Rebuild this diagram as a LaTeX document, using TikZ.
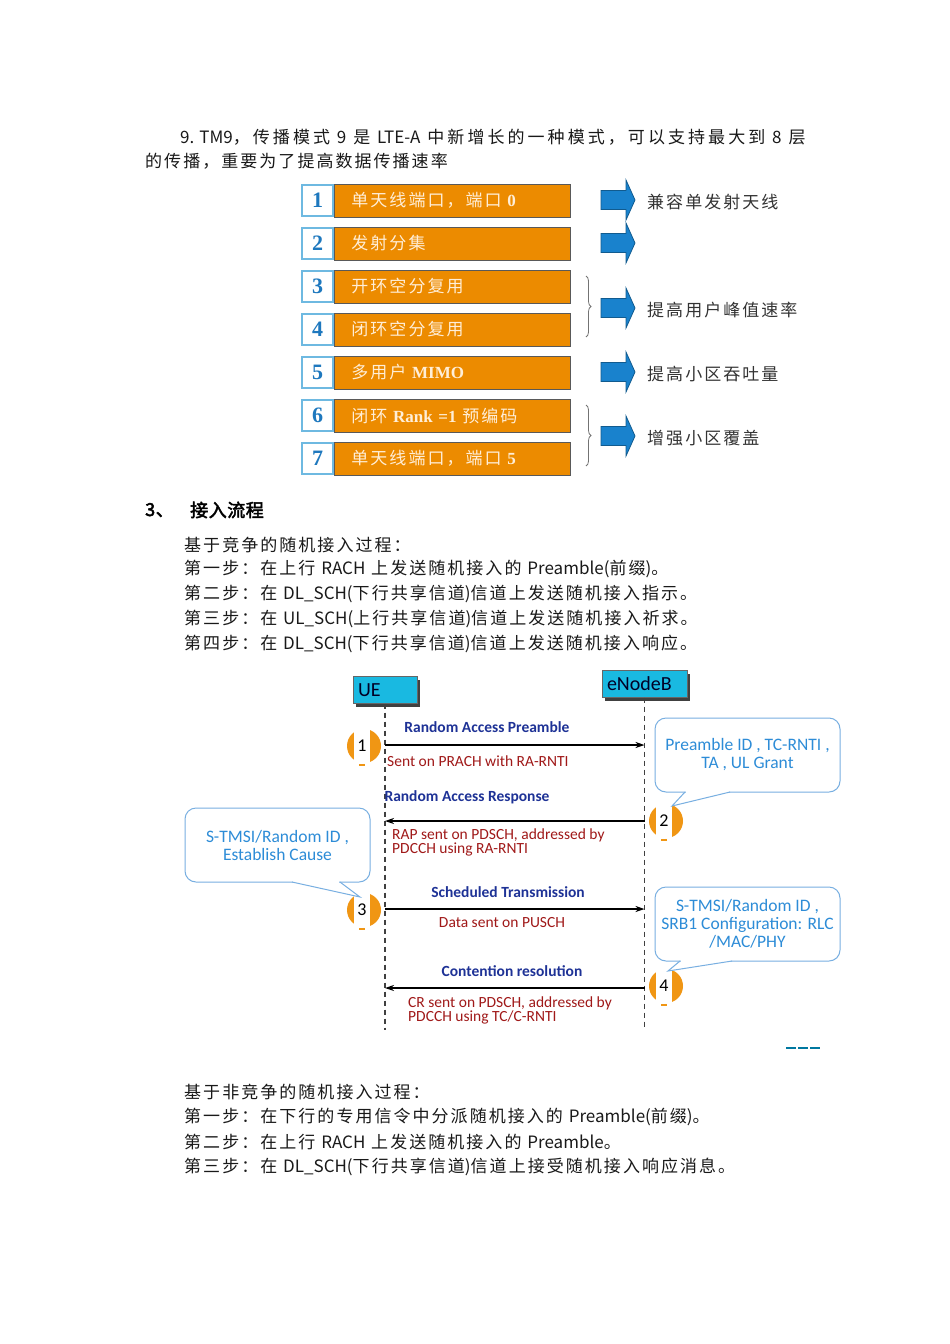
\documentclass[tikz,border=0pt]{standalone}
\usepackage{fontspec}
\setmainfont{Liberation Serif}
\newfontfamily\cjk[LetterSpace=12]{Noto Sans CJK SC}
\newfontfamily\cjkwide[LetterSpace=18]{Noto Sans CJK SC}
\newfontfamily\cjkplain{Noto Sans CJK SC}
\newfontfamily\cjkhead[LetterSpace=3,AutoFakeBold=2.5]{Noto Sans CJK SC}
\newfontfamily\cali{Carlito}
\newcommand{\lat}[1]{{\cjkplain #1}}
\usetikzlibrary{positioning,arrows.meta,shadows,decorations.pathreplacing}

\definecolor{tmorange}{RGB}{236,139,0}
\definecolor{modetext}{RGB}{255,238,215}
\definecolor{numblue}{RGB}{30,120,190}
\definecolor{numframe}{RGB}{110,185,225}
\definecolor{arrowblue}{RGB}{25,130,205}
\definecolor{lifecyan}{RGB}{25,185,225}
\definecolor{msgblue}{RGB}{30,50,150}
\definecolor{msgred}{RGB}{160,25,25}
\definecolor{notetext}{RGB}{45,140,215}
\definecolor{noteframe}{RGB}{120,175,225}
\definecolor{badgeorange}{RGB}{240,150,20}
\definecolor{markteal}{RGB}{0,120,160}

\tikzset{
  bodyline/.style={anchor=west, inner sep=0pt, text=black!90, font=\cjk\fontsize{17}{17}\selectfont},
  headline/.style={anchor=west, inner sep=0pt, text=black, font=\cjkhead\bfseries\fontsize{18}{18}\selectfont},
  numbox/.style={draw=numframe, line width=1.8pt, fill=white, minimum width=31pt, minimum height=31pt, inner sep=0pt, text=numblue, font=\bfseries\fontsize{22}{22}\selectfont},
  modebox/.style={draw=black!65, line width=0.8pt, fill=tmorange, minimum height=33pt, text width=202pt, inner xsep=17pt, inner ysep=0pt, align=left, text=modetext, font=\cjk\fontsize{17}{17}\selectfont},
  gainlabel/.style={anchor=west, inner sep=0pt, text=black!80, font=\cjk\fontsize{17}{17}\selectfont},
  blockarrow/.style={draw=arrowblue!70!black, line width=0.8pt, fill=arrowblue},
  tmbrace/.style={decorate, decoration={brace, amplitude=5pt}, draw=black!55, line width=0.8pt},
  lifebox/.style={draw=black!60, fill=lifecyan, minimum height=27pt, inner xsep=5pt, align=left, text=black!85!blue, font=\cali\fontsize{20}{20}\selectfont, drop shadow={shadow xshift=3pt, shadow yshift=-3pt, fill=black!75, opacity=1}},
  lifeline/.style={dash pattern=on 5pt off 4pt, line width=1.3pt, black!75},
  msg/.style={line width=1.6pt, -{Stealth[length=9pt,width=6pt]}},
  msgtitle/.style={inner sep=0pt, text=msgblue, font=\cali\bfseries\fontsize{15.5}{15.5}\selectfont},
  msgnote/.style={inner sep=0pt, text=msgred, align=left, font=\cali\fontsize{15.5}{14}\selectfont},
  badge/.style={circle, fill=badgeorange, minimum size=34pt, inner sep=0pt},
  badgenum/.style={fill=white, minimum width=16pt, minimum height=34pt, inner sep=0pt, font=\cali\fontsize{18}{18}\selectfont},
  note/.style={draw=noteframe, line width=1pt, fill=white, rounded corners=11pt, minimum width=185pt, minimum height=74pt, align=center, text=notetext, font=\cali\fontsize{17.5}{18}\selectfont},
  noteedge/.style={draw=noteframe, line width=1pt}
}

\begin{document}
\begin{tikzpicture}[x=1pt, y=-1pt]
  \useasboundingbox[fill=white] (0,0) rectangle (950,1344);

  % TM9 paragraph
  \node[bodyline, font=\cjkwide\fontsize{17}{17}\selectfont] (intro1) at (180,137) {\lat{9. TM9}，传播模式 \lat{9} 是 \lat{LTE-A} 中新增长的一种模式，可以支持最大到 \lat{8} 层};
  \node[bodyline] (intro2) at (145,161) {的传播，重要为了提高数据传播速率};

  % transmission modes
  \node[modebox, anchor=west] (m1) at (334,200.5) {单天线端口，端口 {\rmfamily\bfseries 0}};
  \node[modebox, anchor=west] (m2) at (334,243.5) {发射分集};
  \node[modebox, anchor=west] (m3) at (334,286.5) {开环空分复用};
  \node[modebox, anchor=west] (m4) at (334,329.5) {闭环空分复用};
  \node[modebox, anchor=west] (m5) at (334,372.5) {多用户 {\rmfamily\bfseries MIMO}};
  \node[modebox, anchor=west] (m6) at (334,415.5) {闭环 {\rmfamily\bfseries Rank =1} 预编码};
  \node[modebox, anchor=west] (m7) at (334,458.5) {单天线端口，端口 {\rmfamily\bfseries 5}};
  \node[numbox, left=0pt of m1] (n1) {1};
  \node[numbox, left=0pt of m2] (n2) {2};
  \node[numbox, left=0pt of m3] (n3) {3};
  \node[numbox, left=0pt of m4] (n4) {4};
  \node[numbox, left=0pt of m5] (n5) {5};
  \node[numbox, left=0pt of m6] (n6) {6};
  \node[numbox, left=0pt of m7] (n7) {7};

  \draw[tmbrace] (586,276) -- (586,337);
  \draw[tmbrace] (586,405) -- (586,466);
  \foreach \y in {200,243,308,372,436}
    \draw[blockarrow] (601,\y-9.5) -- (626,\y-9.5) -- (626,\y-20) -- (635,\y)
      -- (626,\y+20) -- (626,\y+9.5) -- (601,\y+9.5) -- cycle;

  \node[gainlabel] (g1) at (647,202) {兼容单发射天线};
  \node[gainlabel] (g3) at (647,310) {提高用户峰值速率};
  \node[gainlabel] (g5) at (647,374) {提高小区吞吐量};
  \node[gainlabel] (g6) at (647,438) {增强小区覆盖};

  % access procedure
  \node[headline] (sec3num) at (145,510) {3、};
  \node[headline] (sec3title) at (190,510) {接入流程};
  \node[bodyline] (cb0) at (184,545) {基于竞争的随机接入过程：};
  \node[bodyline] (cb1) at (184,569) {第一步：在上行 \lat{RACH} 上发送随机接入的 \lat{Preamble(}前缀\lat{)}。};
  \node[bodyline] (cb2) at (184,594) {第二步：在 \lat{DL\_SCH(}下行共享信道\lat{)}信道上发送随机接入指示。};
  \node[bodyline] (cb3) at (184,619) {第三步：在 \lat{UL\_SCH(}上行共享信道\lat{)}信道上发送随机接入祈求。};
  \node[bodyline] (cb4) at (184,644) {第四步：在 \lat{DL\_SCH(}下行共享信道\lat{)}信道上发送随机接入响应。};

  % sequence chart
  \node[lifebox, text width=54pt] (ue) at (385,690) {UE};
  \node[lifebox, text width=75pt] (enb) at (644.5,684) {eNodeB};
  \coordinate (seqend) at (0,1030);
  \draw[lifeline] (ue.south) -- (ue.south |- seqend);
  \draw[lifeline] (enb.south) -- (enb.south |- seqend);

  \coordinate (y1) at (0,745);
  \coordinate (y2) at (0,821);
  \coordinate (y3) at (0,909);
  \coordinate (y4) at (0,988);
  \draw[msg] (ue.south |- y1) -- (enb.south |- y1);
  \draw[msg] (enb.south |- y2) -- (ue.south |- y2);
  \draw[msg] (ue.south |- y3) -- (enb.south |- y3);
  \draw[msg] (enb.south |- y4) -- (ue.south |- y4);

  \node[msgtitle] (t1) at (487,727) {Random Access Preamble};
  \node[msgnote, anchor=west] (s1) at (387,761) {Sent on PRACH with RA-RNTI};
  \node[msgtitle] (t2) at (467,797) {Random Access Response};
  \node[msgnote, anchor=west] (s2) at (392,842) {RAP sent on PDSCH, addressed by\\PDCCH using RA-RNTI};
  \node[msgtitle] (t3) at (508,892) {Scheduled Transmission};
  \node[msgnote] (s3) at (502,923) {Data sent on PUSCH};
  \node[msgtitle] (t4) at (512,971) {Contention resolution};
  \node[msgnote, anchor=west] (s4) at (408,1010) {CR sent on PDSCH, addressed by\\PDCCH using TC/C-RNTI};

  % step badges
  \node[badge] (b1) at (364,746) {};
  \node[badge] (b2) at (666,821) {};
  \node[badge] (b3) at (364,910) {};
  \node[badge] (b4) at (666,986) {};
  \node[badgenum] (b1n) at (362,746) {1};
  \node[badgenum] (b2n) at (664,821) {2};
  \node[badgenum] (b3n) at (362,910) {3};
  \node[badgenum] (b4n) at (664,986) {4};
  \foreach \b in {b1n,b2n,b3n,b4n}
    \draw[badgeorange, line width=1.5pt] (\b.south) ++(-3,2) -- ++(6,0);

  % callouts
  \node[note] (noteA) at (747.5,755) {Preamble ID , TC-RNTI ,\\TA , UL Grant};
  \coordinate (tipA) at (672,806);
  \fill[white] (686,788) rectangle (729,794);
  \draw[noteedge] (685,792) -- (tipA) -- (730,792);

  \node[note] (noteB) at (277.5,845) {S-TMSI/Random ID ,\\Establish Cause};
  \coordinate (tipB) at (360,897);
  \fill[white] (293,878) rectangle (339,884);
  \draw[noteedge] (292,882) -- (tipB) -- (340,882);

  \node[note] (noteC) at (747.5,924) {S-TMSI/Random ID ,\\SRB1 Configuration: RLC\\/MAC/PHY};
  \coordinate (tipC) at (668,971);
  \fill[white] (681,957) rectangle (731,963);
  \draw[noteedge] (680,961) -- (tipC) -- (732,961);

  \draw[markteal, dash pattern=on 10pt off 2pt, line width=1.2pt] (786,1048) -- (821,1048);

  % non-contention
  \node[bodyline] (nb0) at (184,1092) {基于非竞争的随机接入过程：};
  \node[bodyline] (nb1) at (184,1117) {第一步：在下行的专用信令中分派随机接入的 \lat{Preamble(}前缀\lat{)}。};
  \node[bodyline] (nb2) at (184,1142) {第二步：在上行 \lat{RACH} 上发送随机接入的 \lat{Preamble}。};
  \node[bodyline] (nb3) at (184,1167) {第三步：在 \lat{DL\_SCH(}下行共享信道\lat{)}信道上接受随机接入响应消息。};
\end{tikzpicture}
\end{document}
